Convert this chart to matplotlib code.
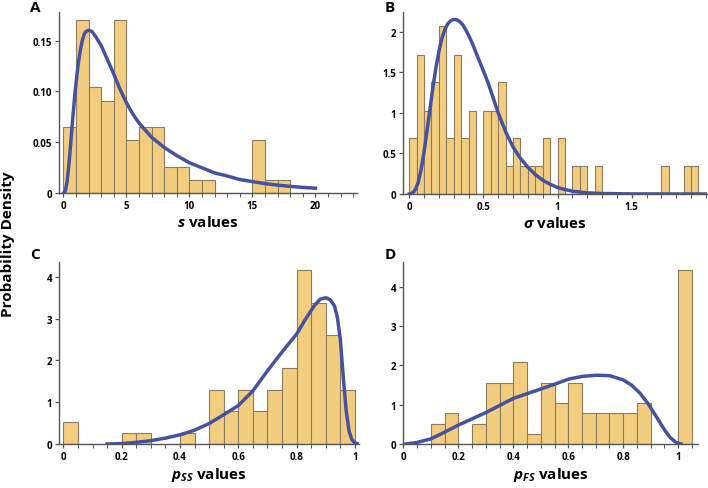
import numpy as np
import matplotlib
matplotlib.use('Agg')
import matplotlib.pyplot as plt
from matplotlib.ticker import MultipleLocator

plt.rcParams['font.family'] = ['Open Sans', 'DejaVu Sans']
plt.rcParams['font.weight'] = 'bold'
plt.rcParams['axes.labelweight'] = 'bold'
plt.rcParams['mathtext.fontset'] = 'custom'
plt.rcParams['mathtext.rm'] = 'Open Sans:bold'
plt.rcParams['mathtext.it'] = 'Open Sans:italic:bold'

# panel A: s values, bins of width 1
s_edges = [0, 1, 2, 3, 4, 5, 6, 7, 8, 9, 10, 11, 15, 16, 17]
s_heights = [0.065, 0.17, 0.104, 0.091, 0.17, 0.052, 0.065, 0.065, 0.026, 0.026,
             0.013, 0.013, 0.052, 0.013, 0.013]
s_curve_x = [0, 0.15, 0.3, 0.45, 0.6, 0.75, 0.9, 1.05, 1.2, 1.35, 1.5, 1.65, 1.8, 2.0,
             2.25, 2.5, 2.75, 3, 3.5, 4, 4.5, 5, 5.5, 6, 7, 8, 9, 10, 11, 12, 13, 14,
             15, 16, 17, 18, 19, 20]
s_curve_y = [0, 0.002, 0.012, 0.03, 0.052, 0.075, 0.096, 0.114, 0.129, 0.141, 0.150,
             0.156, 0.159, 0.160, 0.159, 0.155, 0.150, 0.145, 0.131, 0.117, 0.102,
             0.089, 0.078, 0.069, 0.055, 0.045, 0.037, 0.030, 0.025, 0.020, 0.017,
             0.0135, 0.0115, 0.0095, 0.008, 0.0068, 0.0058, 0.005]

# panel B: sigma values, bins of width 0.05
sig_edges = [0, 0.05, 0.1, 0.15, 0.2, 0.25, 0.3, 0.35, 0.4, 0.5, 0.55, 0.6, 0.65,
             0.7, 0.75, 0.8, 0.85, 0.9, 1.0, 1.1, 1.15, 1.25, 1.7, 1.85, 1.9]
sig_heights = [0.69, 1.72, 1.03, 1.38, 2.07, 0.69, 1.72, 0.69, 1.03, 1.03, 1.03,
               1.38, 0.345, 0.69, 0.345, 0.345, 0.345, 0.69, 0.69, 0.345, 0.345,
               0.345, 0.345, 0.345, 0.345]
sig_curve_x = [0, 0.02, 0.04, 0.06, 0.08, 0.1, 0.12, 0.14, 0.16, 0.18, 0.2, 0.22,
               0.24, 0.26, 0.28, 0.3, 0.32, 0.34, 0.36, 0.38, 0.4, 0.43, 0.46, 0.5,
               0.53, 0.56, 0.6, 0.65, 0.7, 0.75, 0.8, 0.85, 0.9, 0.95, 1.0, 1.05,
               1.1, 1.2, 1.3, 1.5, 2.0]
sig_curve_y = [0, 0.01, 0.05, 0.14, 0.3, 0.52, 0.78, 1.05, 1.32, 1.56, 1.76, 1.92,
               2.03, 2.1, 2.14, 2.155, 2.15, 2.13, 2.09, 2.03, 1.96, 1.84, 1.7, 1.52,
               1.38, 1.22, 1.0, 0.77, 0.58, 0.44, 0.33, 0.24, 0.17, 0.12, 0.08, 0.055,
               0.035, 0.014, 0.006, 0.001, 0]

# panel C: pSS values
pss_edges = [0, 0.2, 0.25, 0.4, 0.5, 0.55, 0.6, 0.65, 0.7, 0.75, 0.8, 0.85, 0.9, 0.95]
pss_heights = [0.52, 0.26, 0.26, 0.26, 1.3, 0.78, 1.3, 0.78, 1.3, 1.82, 4.16, 3.38,
               2.6, 1.3]
pss_curve_x = [0.15, 0.2, 0.25, 0.3, 0.35, 0.4, 0.45, 0.5, 0.55, 0.6, 0.65, 0.7, 0.75,
               0.8, 0.83, 0.86, 0.88, 0.9, 0.915, 0.93, 0.94, 0.95, 0.96, 0.97,
               0.98, 0.99, 1.0, 1.02]
pss_curve_y = [0, 0.01, 0.04, 0.08, 0.14, 0.22, 0.33, 0.49, 0.7, 0.92, 1.27, 1.75,
               2.2, 2.63, 2.98, 3.3, 3.46, 3.5, 3.45, 3.3, 3.02, 2.5, 1.6, 0.8, 0.3,
               0.1, 0.02, 0]

# panel D: pFS values
pfs_edges = [0.1, 0.15, 0.25, 0.3, 0.35, 0.4, 0.45, 0.5, 0.55, 0.6, 0.65, 0.7,
             0.75, 0.8, 0.85, 1.0]
pfs_heights = [0.52, 0.78, 0.52, 1.56, 1.56, 2.08, 0.26, 1.56, 1.04, 1.56, 0.78,
               0.78, 0.78, 0.78, 1.04, 4.42]
pfs_curve_x = [0.01, 0.05, 0.1, 0.15, 0.2, 0.25, 0.3, 0.35, 0.4, 0.45, 0.5, 0.55,
               0.6, 0.65, 0.7, 0.75, 0.8, 0.83, 0.86, 0.89, 0.92, 0.95, 0.97, 0.99,
               1.0, 1.01]
pfs_curve_y = [0, 0.04, 0.13, 0.3, 0.48, 0.64, 0.8, 0.98, 1.16, 1.28, 1.4, 1.52,
               1.65, 1.72, 1.75, 1.74, 1.63, 1.5, 1.3, 1.03, 0.7, 0.36, 0.17, 0.05,
               0.02, 0]

bar_color = '#f3cd7f'
edge_color = '#8c7b5c'
line_color = '#4552a0'
spine_color = '#555555'

fig = plt.figure(figsize=(7.08, 4.89), dpi=100)

def make_axes(rect, xlim, ylim, xminor, yticks, yticklabels, xticks, xticklabels):
    ax = fig.add_axes(rect)
    ax.set_xlim(*xlim)
    ax.set_ylim(*ylim)
    for side in ['top', 'right']:
        ax.spines[side].set_visible(False)
    for side in ['left', 'bottom']:
        ax.spines[side].set_color(spine_color)
        ax.spines[side].set_linewidth(1.0)
    ax.set_xticks(xticks)
    ax.set_xticklabels(xticklabels, fontweight='bold')
    ax.xaxis.set_minor_locator(MultipleLocator(xminor))
    ax.set_yticks(yticks)
    ax.set_yticklabels(yticklabels, fontweight='bold')
    ax.tick_params(axis='both', which='major', labelsize=7, length=3, width=0.9,
                   color=spine_color, pad=2)
    ax.tick_params(axis='x', which='minor', length=3, width=0.7, color=spine_color)
    return ax

def draw_hist(ax, edges, heights, width):
    ax.bar(edges, heights, width=width, align='edge', color=bar_color,
           edgecolor=edge_color, linewidth=0.8, zorder=1)

# A
axA = make_axes([59/708, 1-194.3/489, 298/708, 181.3/489], (-0.35, 23.3), (0, 0.178),
                1, [0, 0.05, 0.10, 0.15], ['0', '0.05', '0.10', '0.15'],
                [0, 5, 10, 15, 20], ['0', '5', '10', '15', '20'])
draw_hist(axA, s_edges, s_heights, 1)
axA.plot(s_curve_x, s_curve_y, color=line_color, lw=2.5, zorder=3)
axA.set_xlabel(r'$s$ values', fontsize=11, fontweight='bold', labelpad=2)

# B
axB = make_axes([403.3/708, 1-195/489, 304/708, 182.3/489], (-0.04, 2.01), (0, 2.25),
                0.1, [0, 0.5, 1, 1.5, 2], ['0', '0.5', '1', '1.5', '2'],
                [0, 0.5, 1, 1.5], ['0', '0.5', '1', '1.5'])
draw_hist(axB, sig_edges, sig_heights, 0.05)
axB.plot(sig_curve_x, sig_curve_y, color=line_color, lw=2.5, zorder=3)
axB.set_xlabel(r'$\sigma$ values', fontsize=11, fontweight='bold', labelpad=2)

# C
axC = make_axes([59/708, 1-445/489, 300/708, 182.3/489], (-0.015, 1.014), (0, 4.36),
                0.05, [0, 1, 2, 3, 4], ['0', '1', '2', '3', '4'],
                [0, 0.2, 0.4, 0.6, 0.8, 1], ['0', '0.2', '0.4', '0.6', '0.8', '1'])
draw_hist(axC, pss_edges, pss_heights, 0.05)
axC.plot(pss_curve_x, pss_curve_y, color=line_color, lw=2.5, zorder=3)
axC.set_xlabel(r'$p_{SS}$ values', fontsize=11, fontweight='bold', labelpad=2)

# D
axD = make_axes([403.3/708, 1-445/489, 295/708, 182.3/489], (0, 1.073), (0, 4.64),
                0.05, [0, 1, 2, 3, 4], ['0', '1', '2', '3', '4'],
                [0, 0.2, 0.4, 0.6, 0.8, 1], ['0', '0.2', '0.4', '0.6', '0.8', '1'])
draw_hist(axD, pfs_edges, pfs_heights, 0.05)
axD.plot(pfs_curve_x, pfs_curve_y, color=line_color, lw=2.5, zorder=3)
axD.set_xlabel(r'$p_{FS}$ values', fontsize=11, fontweight='bold', labelpad=2)

# panel letters
for letter, x, y in [('A', 30/708, 1-8/489), ('B', 385/708, 1-8/489),
                     ('C', 30/708, 1-255/489), ('D', 385/708, 1-255/489)]:
    fig.text(x, y, letter, fontsize=11, fontweight='bold', ha='left', va='center')

fig.text(8/708, 0.5, 'Probability Density', rotation=90, fontsize=11,
         fontweight='bold', ha='center', va='center')

fig.savefig('out.png', dpi=100)
